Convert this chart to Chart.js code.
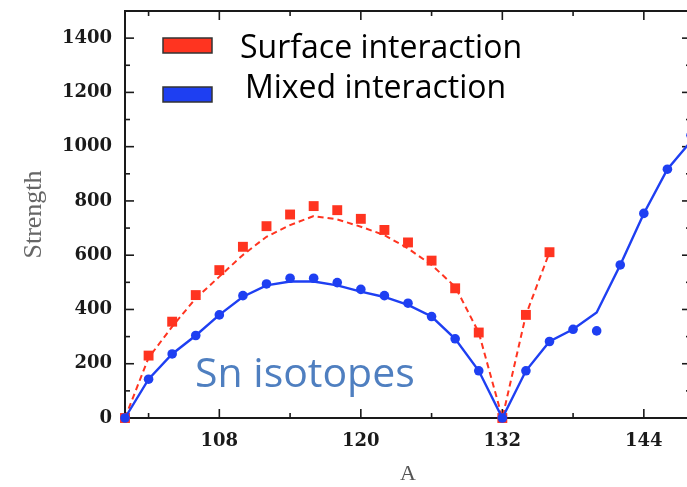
<!DOCTYPE html>
<html>
<head>
<meta charset="utf-8">
<script src="https://cdn.jsdelivr.net/npm/chart.js@4.4.1/dist/chart.umd.min.js"></script>
<style>
  html, body { margin: 0; padding: 0; background: #fff; overflow: hidden; }
  #wrap { width: 692px; height: 487px; }
</style>
</head>
<body>
<div id="wrap"><canvas id="strengthChart"></canvas></div>
<script>
// mass numbers of the even Sn isotopes
const massNumbers = [100, 102, 104, 106, 108, 110, 112, 114, 116, 118, 120, 122, 124,
  126, 128, 130, 132, 134, 136, 138, 140, 142, 144, 146, 148];

// surface interaction: calculated points and fitted curve (up to A = 136)
const surfacePoints = [0, 230, 355, 453, 545, 631, 707, 750, 781, 766, 734, 693, 647,
  580, 478, 315, 0, 380, 611];
const surfaceFit = [0, 222, 337, 441, 521, 601, 668, 711, 744, 732, 705, 674, 625,
  564, 484, 315, 0, 380, 611];

// mixed interaction: calculated points and fitted curve
const mixedPoints = [0, 143, 236, 304, 380, 451, 494, 515, 515, 499, 474, 451, 423,
  374, 292, 174, 0, 174, 282, 327, 321, 564, 754, 917, 1042];
const mixedFit = [0, 143, 236, 304, 380, 447, 489, 503, 503, 489, 466, 446, 417,
  374, 292, 174, 0, 174, 282, 327, 389, 564, 754, 917, 1020];

const xTickLabels = [108, 120, 132, 144];
const xMinorTicks = [102, 114, 126, 138];
const yTickLabels = [0, 200, 400, 600, 800, 1000, 1200, 1400];
const yMinorTicks = [100, 300, 500, 700, 900, 1100, 1300];

const legendNames = ['Surface interaction', 'Mixed interaction'];
const noteText = 'Sn isotopes';

const RED = '#ff3420';
const BLUE = '#1e3ff2';

function toXY(ys) {
  return ys.map((y, i) => ({ x: massNumbers[i], y: y }));
}

// box around the plot with inward ticks on all four sides
const framePlugin = {
  id: 'frame',
  beforeDatasetsDraw(chart) {
    const { ctx, chartArea: a, scales: { x, y } } = chart;
    ctx.save();
    ctx.strokeStyle = '#1a1a1a';
    ctx.lineWidth = 2;
    ctx.strokeRect(a.left, a.top, a.right - a.left, a.bottom - a.top);
    ctx.lineWidth = 1.6;
    const tick = (x1, y1, x2, y2) => {
      ctx.beginPath(); ctx.moveTo(x1, y1); ctx.lineTo(x2, y2); ctx.stroke();
    };
    const xTicks = [[xTickLabels, 9], [xMinorTicks, 5]];
    xTicks.forEach(([vals, len]) => vals.forEach(v => {
      const px = x.getPixelForValue(v);
      tick(px, a.bottom, px, a.bottom - len);
      tick(px, a.top, px, a.top + len);
    }));
    const yTicks = [[yTickLabels, 9], [yMinorTicks, 5]];
    yTicks.forEach(([vals, len]) => vals.forEach(v => {
      if (v === 0) return;
      const py = y.getPixelForValue(v);
      tick(a.left, py, a.left + len, py);
      tick(a.right, py, a.right - len, py);
    }));
    ctx.restore();
  },
  afterDraw(chart) {
    const { ctx } = chart;
    ctx.save();
    // legend boxes
    const colors = [RED, BLUE];
    const boxTop = [38, 87];
    const textX = [240, 245];
    const textBase = [58, 98];
    ctx.lineWidth = 1.5;
    ctx.strokeStyle = '#333';
    colors.forEach((c, i) => {
      ctx.fillStyle = c;
      ctx.fillRect(163, boxTop[i], 49, 15);
      ctx.strokeRect(163, boxTop[i], 49, 15);
    });
    ctx.fillStyle = '#000';
    ctx.font = '32px "Open Sans"';
    ctx.textBaseline = 'alphabetic';
    legendNames.forEach((t, i) => ctx.fillText(t, textX[i], textBase[i]));
    // isotope chain label
    ctx.fillStyle = '#4f7fc0';
    ctx.font = '41px "Open Sans"';
    ctx.fillText(noteText, 195, 387);
    ctx.restore();
  }
};

const tickFont = { family: 'DejaVu Serif', weight: 'bold', size: 18 };

new Chart(document.getElementById('strengthChart'), {
  type: 'line',
  data: {
    datasets: [
      {
        label: 'Mixed fit',
        data: toXY(mixedFit),
        borderColor: BLUE,
        borderWidth: 2.4,
        pointRadius: 0,
        tension: 0,
        clip: false
      },
      {
        label: 'Mixed interaction',
        data: toXY(mixedPoints),
        showLine: false,
        pointStyle: 'circle',
        pointRadius: 4.8,
        pointBackgroundColor: BLUE,
        pointBorderColor: BLUE,
        pointBorderWidth: 0,
        clip: false
      },
      {
        label: 'Surface fit',
        data: toXY(surfaceFit),
        borderColor: RED,
        borderWidth: 2,
        borderDash: [6, 4],
        pointRadius: 0,
        tension: 0,
        clip: false
      },
      {
        label: 'Surface interaction',
        data: toXY(surfacePoints),
        showLine: false,
        pointStyle: 'rect',
        pointRadius: 7,
        pointBackgroundColor: RED,
        pointBorderColor: RED,
        pointBorderWidth: 0,
        clip: false
      }
    ]
  },
  options: {
    responsive: true,
    maintainAspectRatio: false,
    animation: false,
    layout: { autoPadding: false, padding: { top: 11, right: 1, left: 0, bottom: 0 } },
    plugins: {
      legend: { display: false },
      tooltip: { enabled: false }
    },
    scales: {
      x: {
        type: 'linear',
        min: 100,
        max: 148,
        grid: { display: false, drawTicks: false },
        border: { display: false },
        afterBuildTicks: s => { s.ticks = xTickLabels.map(v => ({ value: v })); },
        afterFit: s => {
          s.height = 69;
          s.paddingLeft = 0;
          s.paddingRight = 0;
        },
        ticks: {
          padding: 13,
          color: '#1a1a1a',
          font: tickFont,
          callback: v => String(v)
        },
        title: {
          display: true,
          text: 'A',
          color: '#555',
          padding: { top: -3, bottom: 0 },
          font: { family: 'Liberation Serif', size: 22 }
        }
      },
      y: {
        min: 0,
        max: 1500,
        grid: { display: false, drawTicks: false },
        border: { display: false },
        afterBuildTicks: s => { s.ticks = yTickLabels.map(v => ({ value: v })); },
        afterFit: s => {
          s.width = 125;
          s.paddingTop = 0;
          s.paddingBottom = 0;
        },
        ticks: {
          padding: 13,
          color: '#1a1a1a',
          font: tickFont,
          callback: v => String(v)
        },
        title: {
          display: true,
          text: 'Strength',
          color: '#666',
          padding: { top: 19, bottom: 0 },
          font: { family: 'Liberation Serif', size: 26 }
        }
      }
    }
  },
  plugins: [framePlugin]
});
</script>
</body>
</html>
